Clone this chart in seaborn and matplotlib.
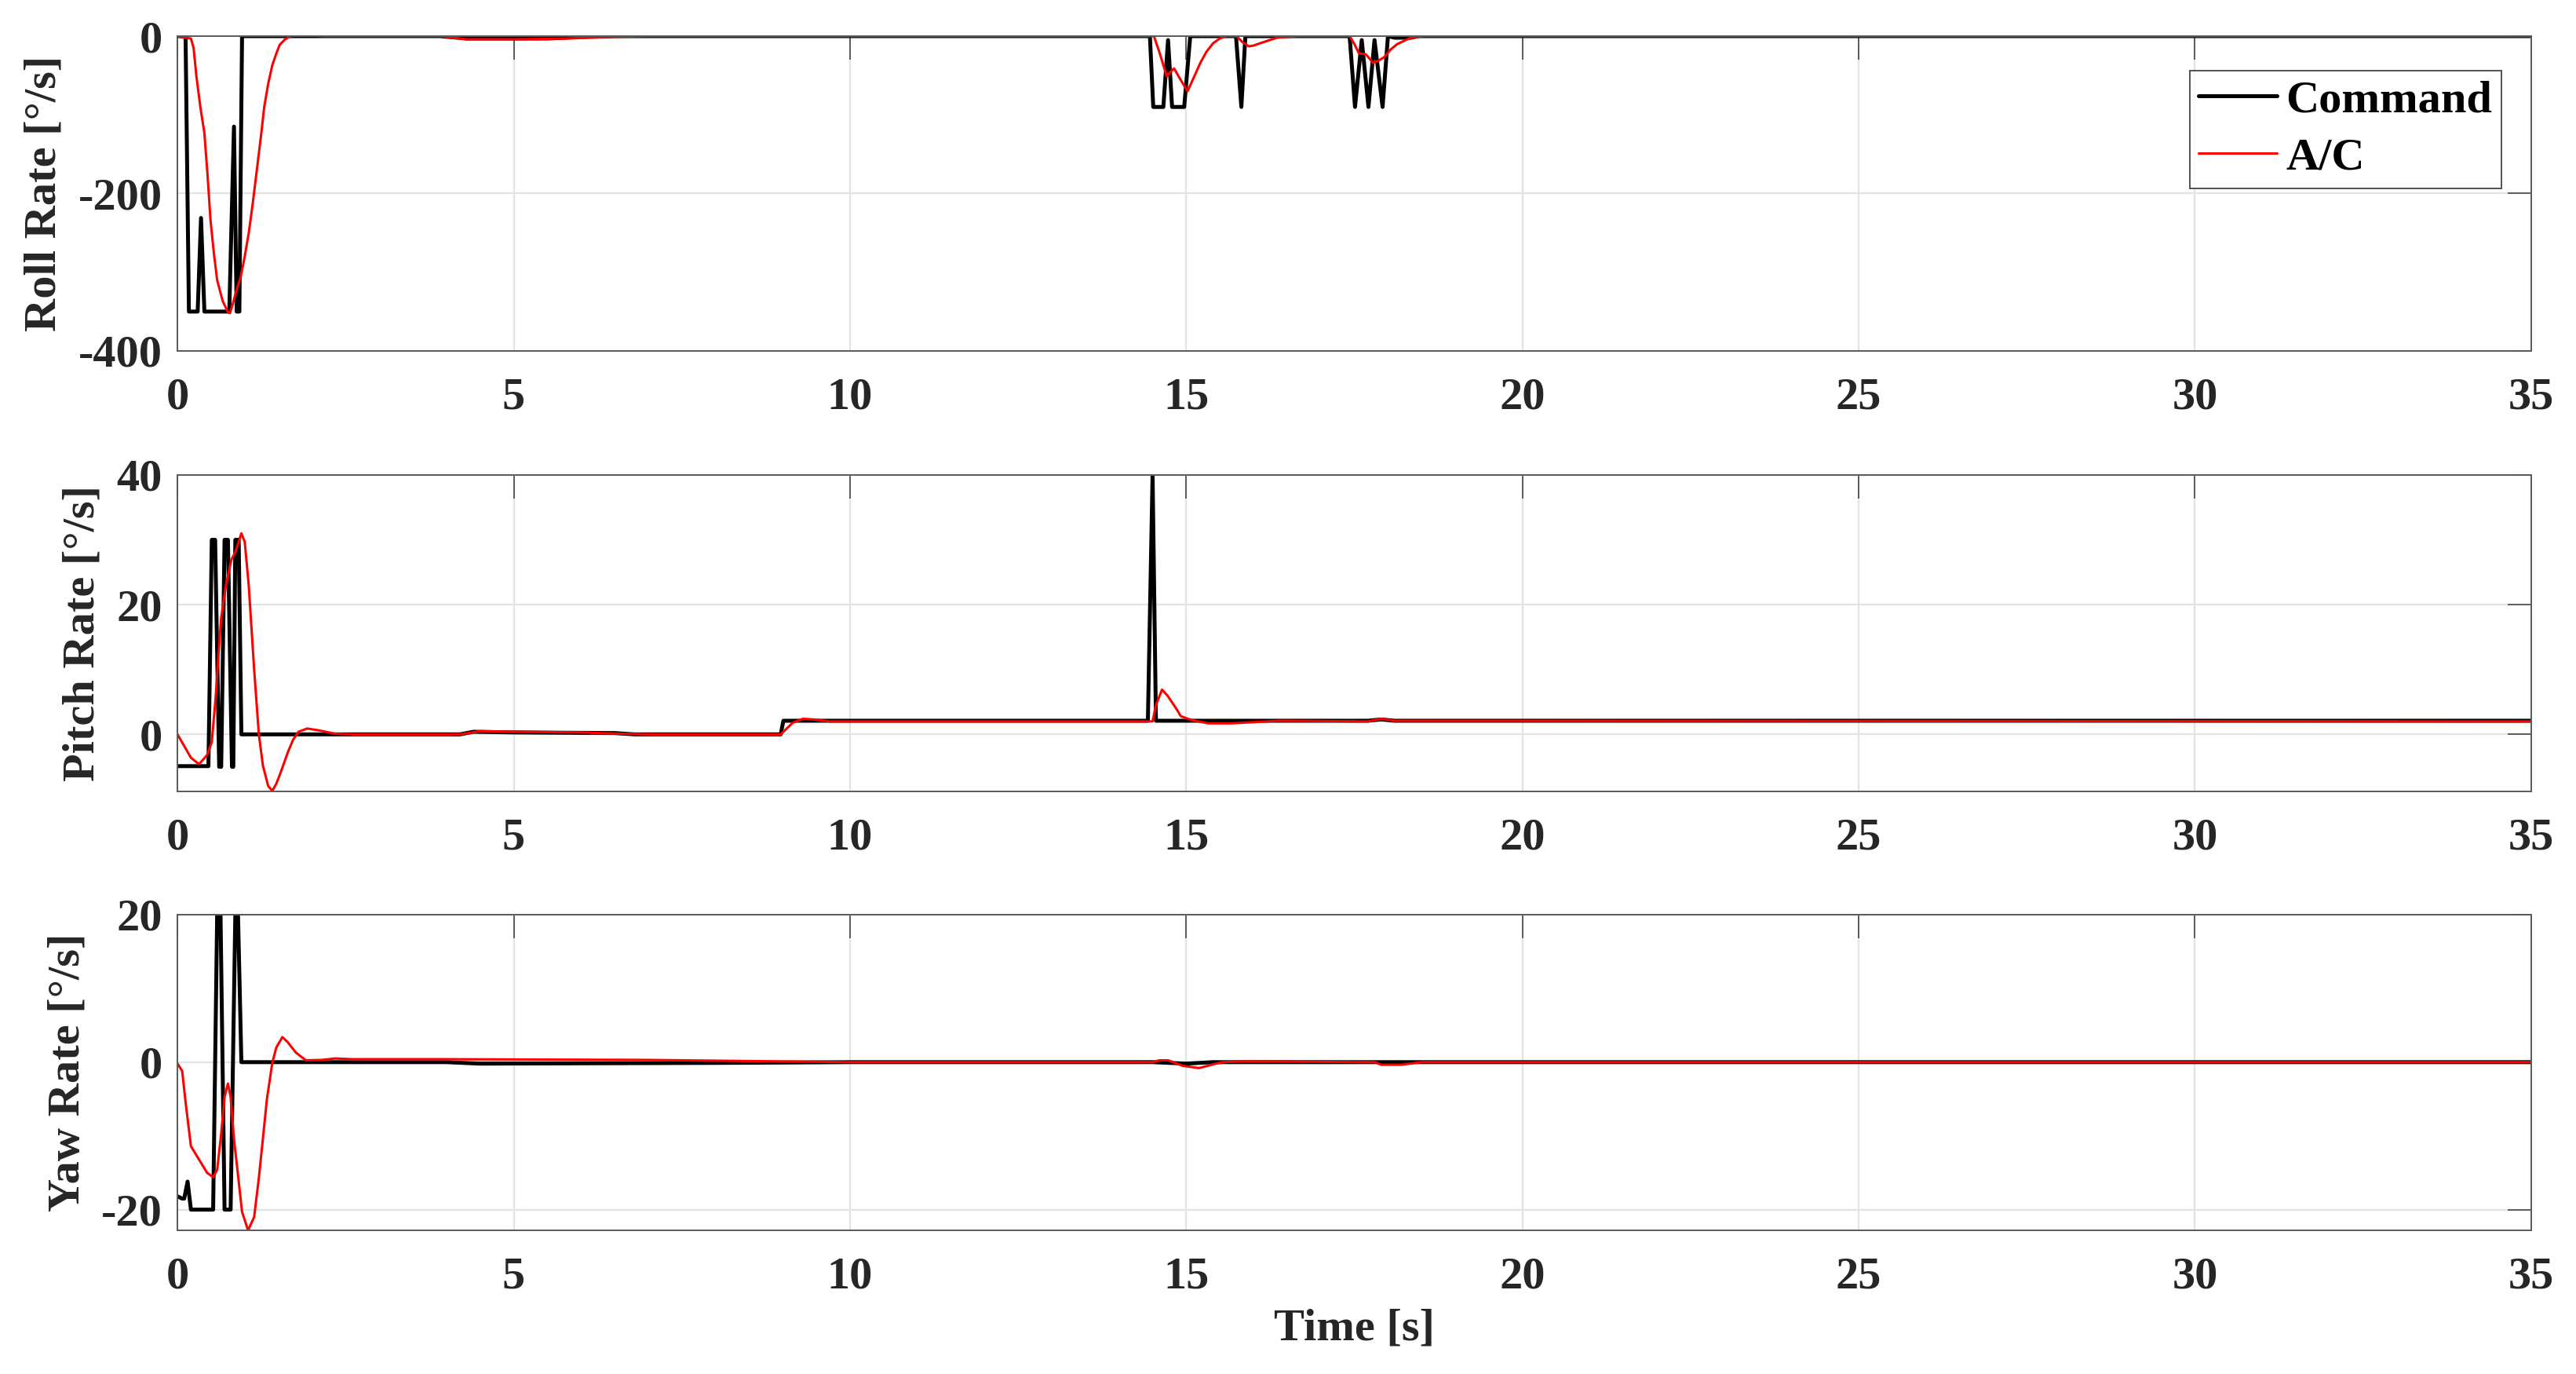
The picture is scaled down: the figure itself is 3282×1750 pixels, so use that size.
import matplotlib
matplotlib.use("Agg")
import matplotlib.pyplot as plt
import pandas as pd
import seaborn as sns

# breakpoints (time [s], rate [deg/s])
roll_cmd_t = [0, 0.12, 0.17, 0.30, 0.35, 0.40, 0.77, 0.84, 0.88, 0.92, 0.96, 3.9, 4.3, 5.5, 6.0, 6.5,
              14.46, 14.51, 14.66, 14.73, 14.79, 14.97, 15.06, 15.74, 15.82, 15.88,
              17.43, 17.51, 17.61, 17.71, 17.80, 17.92, 18.00, 18.1, 18.35, 18.45, 35]
roll_cmd_v = [0, 0, -350, -350, -231, -350, -350, -115, -350, -350, 0, 0, -3, -3, -1, 0,
              0, -90, -90, -5, -90, -90, 0, 0, -90, 0,
              0, -90, -5, -90, -5, -90, 0, -2, -2, 0, 0]

roll_ac_t = [0, 0.1, 0.2, 0.24, 0.28, 0.34, 0.40, 0.45, 0.49, 0.54, 0.59, 0.67, 0.75, 0.78, 0.82, 0.88,
             0.94, 1.00, 1.06, 1.12, 1.18, 1.24, 1.29, 1.35, 1.41, 1.47, 1.52, 1.60, 1.68, 1.8, 1.91,
             2.2, 3.9, 4.3, 5.0, 5.8, 6.4, 7.0,
             14.52, 14.6, 14.71, 14.76, 14.82, 14.92, 15.02, 15.1, 15.21, 15.3, 15.40, 15.5, 15.60,
             15.75, 15.83, 15.93, 16.0, 16.1, 16.35, 16.66,
             17.43, 17.5, 17.57, 17.67, 17.78, 17.86, 17.94, 18.04, 18.14, 18.34, 18.53, 35]
roll_ac_v = [0, -2, -3, -15, -50, -90, -123, -180, -233, -275, -310, -336, -351, -352, -341, -322,
             -306, -280, -250, -212, -170, -128, -90, -60, -37, -22, -11, -4, 0, 1, 1,
             0, 0, -4, -4, -3, -1, 0,
             0, -20, -51, -46, -41, -56, -70, -55, -34, -20, -9, -3, 0,
             0, -7, -13, -12, -9, -2, 0,
             0, -10, -22, -23, -34, -31, -27, -17, -10, -2, 0, 0]

pitch_cmd_t = [0, 0.46, 0.51, 0.56, 0.62, 0.65, 0.70, 0.75, 0.81, 0.83, 0.86, 0.91, 0.95,
               4.2, 4.4, 5.0, 6.5, 6.8, 8.97, 9.01, 14.43, 14.50, 14.55, 17.7, 17.9, 18.1, 35]
pitch_cmd_v = [-4.9, -4.9, 30, 30, -5, -5, 30, 30, -5, -5, 30, 30, 0,
               0, 0.4, 0.3, 0.2, 0, 0, 2.1, 2.1, 40, 2.1, 2.1, 2.3, 2.1, 2.1]

pitch_ac_t = [0, 0.1, 0.2, 0.32, 0.44, 0.51, 0.57, 0.61, 0.65, 0.72, 0.80, 0.86, 0.95, 1.0, 1.06,
              1.14, 1.21, 1.27, 1.35, 1.41, 1.47, 1.53, 1.64, 1.72, 1.80, 1.93, 2.11, 2.34, 2.61,
              4.2, 4.5, 5.0, 6.0, 6.6, 7.0, 8.97, 9.15, 9.30, 9.46, 9.69,
              14.5, 14.55, 14.64, 14.72, 14.85, 14.92, 15.08, 15.33, 15.68, 16.38, 17.7, 17.9, 18.1, 35]
pitch_ac_v = [0, -1.8, -3.6, -4.6, -3.2, -1.2, 6, 12.4, 18, 22.9, 26.9, 28.1, 31, 29.7, 22.9,
              10, 0, -4.8, -8, -8.7, -7.6, -6, -2.8, -0.8, 0.4, 0.9, 0.6, 0.1, 0,
              0, 0.5, 0.4, 0.3, 0.1, 0, 0, 1.8, 2.4, 2.3, 2.0,
              2.0, 4.5, 6.9, 6.0, 4.0, 2.8, 2.2, 1.7, 1.7, 2.1, 2.0, 2.4, 2.1, 2.0]

yaw_cmd_t = [0, 0.07, 0.10, 0.15, 0.20, 0.53, 0.59, 0.64, 0.70, 0.79, 0.86, 0.90, 0.95,
             4.0, 4.5, 8.0, 10.0, 14.5, 15.0, 15.4, 35]
yaw_cmd_v = [-18.2, -18.5, -18.5, -16.2, -20, -20, 20, 20, -20, -20, 20, 20, 0,
             0, -0.2, -0.1, 0, 0, -0.2, 0, 0]

yaw_ac_t = [0, 0.07, 0.12, 0.20, 0.32, 0.44, 0.53, 0.59, 0.65, 0.70, 0.75, 0.79, 0.84, 0.90, 0.96,
            1.05, 1.14, 1.21, 1.27, 1.33, 1.41, 1.47, 1.56, 1.64, 1.76, 1.91, 2.15, 2.34, 2.61,
            4.0, 7.0, 10.0, 14.5, 14.6, 14.73, 14.95, 15.19, 15.4, 15.54, 15.86,
            17.8, 17.9, 18.2, 18.5, 35]
yaw_ac_v = [-0.2, -1.2, -5.4, -11.4, -13.2, -15, -15.6, -14.6, -9.7, -4.7, -2.9, -4.7, -10.4, -15.3, -20.3,
            -22.8, -21, -15.7, -10.4, -5, -0.1, 2, 3.4, 2.7, 1.3, 0.25, 0.3, 0.5, 0.4,
            0.4, 0.3, 0, 0, 0.25, 0.25, -0.5, -0.8, -0.3, 0, 0.1,
            0, -0.35, -0.35, 0, 0]

panels = [
    ("Roll Rate [°/s]", roll_cmd_t, roll_cmd_v, roll_ac_t, roll_ac_v, (-400, 0), [-400, -200, 0]),
    ("Pitch Rate [°/s]", pitch_cmd_t, pitch_cmd_v, pitch_ac_t, pitch_ac_v, (-8.8, 40), [0, 20, 40]),
    ("Yaw Rate [°/s]", yaw_cmd_t, yaw_cmd_v, yaw_ac_t, yaw_ac_v, (-22.8, 20), [-20, 0, 20]),
]

sns.set_theme(style="white")
plt.rcParams["font.family"] = ["Liberation Serif", "DejaVu Serif"]
plt.rcParams["font.weight"] = "bold"
plt.rcParams["axes.labelweight"] = "bold"
plt.rcParams["axes.unicode_minus"] = False

TXT = "#262626"
fig = plt.figure(figsize=(16.41, 8.75), dpi=200)
boxes = [(0.0689, 0.7446, 0.9137, 0.2291),
         (0.0689, 0.4240, 0.9137, 0.2303),
         (0.0689, 0.1046, 0.9137, 0.2297)]

for i, (label, ct, cv, at, av, ylim, yticks) in enumerate(panels):
    ax = fig.add_axes(boxes[i])
    cmd = pd.DataFrame({"t": ct, "v": cv})
    ac = pd.DataFrame({"t": at, "v": av})
    sns.lineplot(data=cmd, x="t", y="v", ax=ax, color="black", lw=1.8,
                 estimator=None, sort=False, label="Command", legend=False)
    sns.lineplot(data=ac, x="t", y="v", ax=ax, color="red", lw=1.1,
                 estimator=None, sort=False, label="A/C", legend=False)
    ax.set_xlim(0, 35)
    ax.set_ylim(*ylim)
    ax.set_xticks(range(0, 36, 5))
    ax.set_yticks(yticks)
    ax.grid(True, color="#e3e3e3", lw=0.8)
    ax.set_axisbelow(True)
    ax.tick_params(direction="in", length=10.8, width=0.6, color="#444444",
                   top=True, right=True, labelsize=21, labelcolor=TXT)
    ax.tick_params(axis="x", pad=12)
    ax.tick_params(axis="y", pad=7)
    for sp in ax.spines.values():
        sp.set_color("#5a5a5a")
        sp.set_linewidth(0.7)
    ax.set_ylabel(label, fontsize=21, color=TXT, labelpad=6)
    if i == 2:
        ax.set_xlabel("Time [s]", fontsize=21, color=TXT, labelpad=5)
    else:
        ax.set_xlabel("")
    if i == 0:
        leg = ax.legend(loc="upper right", bbox_to_anchor=(0.9873, 0.890), borderaxespad=0,
                        frameon=True, fancybox=False, edgecolor=TXT, fontsize=21,
                        handlelength=1.7, handletextpad=0.2, borderpad=0.2, labelspacing=0.35)
        leg.get_frame().set_linewidth(0.7)
        for t in leg.get_texts():
            t.set_color("black")

fig.savefig("out.png", dpi=200)
